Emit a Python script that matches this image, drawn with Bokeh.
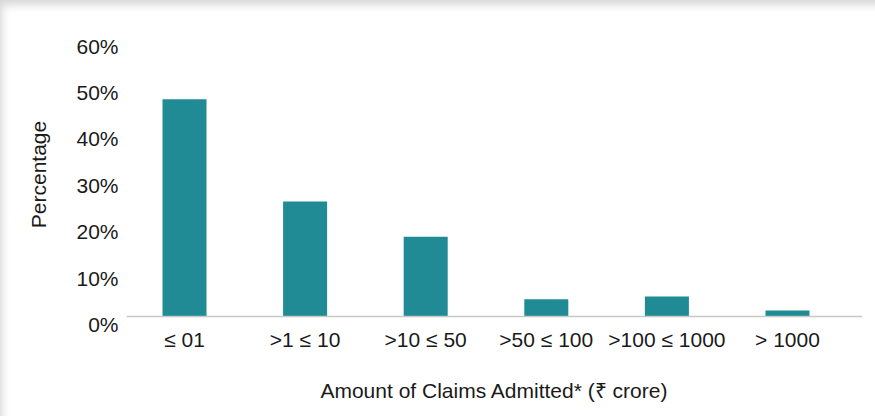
from bokeh.plotting import figure
from bokeh.models import Range1d, LinearAxis, FixedTicker, NumeralTickFormatter, Span
from bokeh.embed import file_html
from bokeh.resources import INLINE

categories = ["≤ 01", ">1 ≤ 10", ">10 ≤ 50", ">50 ≤ 100", ">100 ≤ 1000", "> 1000"]
shares = [0.468, 0.248, 0.172, 0.037, 0.043, 0.013]
y_ticks = [0.0, 0.1, 0.2, 0.3, 0.4, 0.5, 0.6]

FONT = "Liberation Sans, Arial, Helvetica, sans-serif"
FS = "21px"
TXT = "#1a1a1a"
BAR = "#208B94"

xs = list(range(len(categories)))

off = 8 / 464.0        # labels sit slightly below their baseline positions in the source
span = 300 / 464.0

p = figure(width=875, height=416, output_backend="svg", toolbar_location=None,
           x_range=Range1d(-0.481, 5.622), y_range=Range1d(-off, span - off),
           y_axis_location=None, frame_width=736, frame_height=300,
           min_border_left=126, min_border_right=13, min_border_top=24, min_border_bottom=92)
p.outline_line_color = None
p.background_fill_color = "white"
p.border_fill_color = None
p.styles = {"background": "white",
            "box-shadow": "inset 7px 10px 9px -5px rgba(0,0,0,0.16)"}
p.grid.grid_line_color = None

p.add_layout(Span(location=0, dimension="width", line_color="#c8c8c8", line_width=1.5))
p.vbar(x=xs, top=shares, bottom=0, width=0.365, fill_color=BAR, line_color=None)

# x axis
xa = p.xaxis[0]
xa.ticker = FixedTicker(ticks=xs)
xa.major_label_overrides = {i: c for i, c in zip(xs, categories)}
xa.axis_line_color = None
xa.major_tick_line_color = None
xa.minor_tick_line_color = None
xa.major_tick_out = 0
xa.major_tick_in = 0
xa.major_label_standoff = 3
xa.major_label_text_font = FONT
xa.major_label_text_font_size = FS
xa.major_label_text_color = TXT
xa.axis_label = "Amount of Claims Admitted* (₹ crore)"
xa.axis_label_text_font = FONT
xa.axis_label_text_font_size = FS
xa.axis_label_text_font_style = "normal"
xa.axis_label_text_color = TXT
xa.axis_label_standoff = 25

# y axis labels
p.extra_y_ranges = {"lab": Range1d(-1e-6, span)}
ya = LinearAxis(y_range_name="lab", ticker=FixedTicker(ticks=y_ticks),
                formatter=NumeralTickFormatter(format="0%"))
ya.axis_line_color = None
ya.major_tick_line_color = None
ya.minor_tick_line_color = None
ya.major_tick_out = 0
ya.major_tick_in = 0
ya.major_label_standoff = 8
ya.major_label_text_font = FONT
ya.major_label_text_font_size = FS
ya.major_label_text_color = TXT
ya.axis_label = "Percentage"
ya.axis_label_text_font = FONT
ya.axis_label_text_font_size = FS
ya.axis_label_text_font_style = "normal"
ya.axis_label_text_color = TXT
ya.axis_label_standoff = 23
p.add_layout(ya, "left")

open("out.html", "w").write(file_html(p, INLINE))
